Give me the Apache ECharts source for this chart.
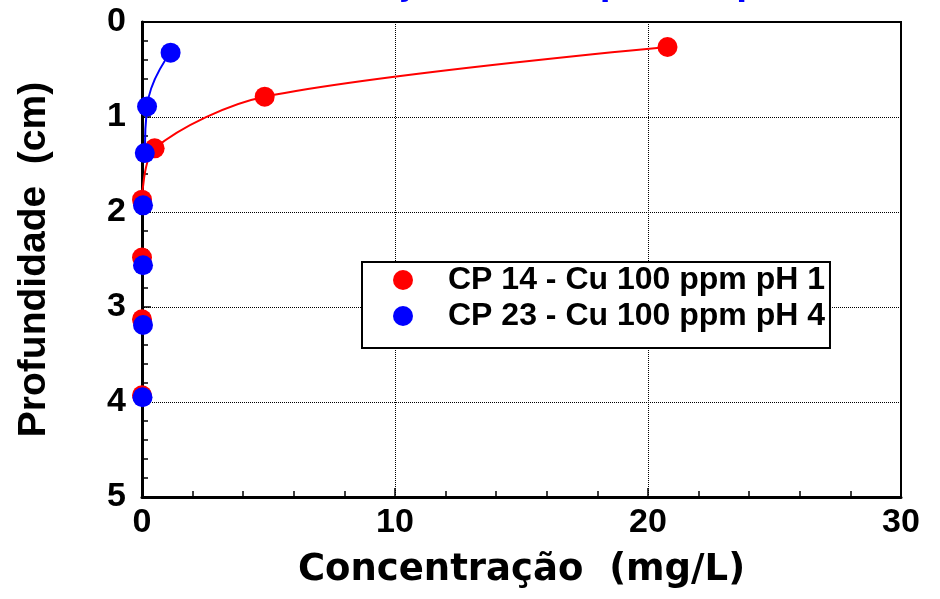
<!DOCTYPE html>
<html>
<head>
<meta charset="utf-8">
<script src="https://cdn.jsdelivr.net/npm/echarts@6/dist/echarts.min.js"></script>
<style>
  html, body { margin: 0; padding: 0; background: #fff; }
  #chart { width: 940px; height: 599px; }
</style>
</head>
<body>
<div id="chart"></div>
<script>
// ---- data ----
const titleText = 'Concentração em corpos de prova';
const xAxisName = 'Concentração  (mg/L)';
const yAxisName = 'Profundidade  (cm)';
const seriesNames = ['CP 14 - Cu 100 ppm pH 1', 'CP 23 - Cu 100 ppm pH 4'];

const redConc  = [20.77, 4.85, 0.50, 0.00, 0.00, 0.00, 0.00];
const redDepth = [0.263, 0.786, 1.33, 1.87, 2.48, 3.13, 3.93];
const blueConc  = [1.13, 0.20, 0.11, 0.04, 0.04, 0.04, 0.02];
const blueDepth = [0.323, 0.89, 1.38, 1.93, 2.56, 3.19, 3.95];
const redCurveCount = 4;   // points joined by the red trend curve
const blueCurveCount = 3;  // points joined by the blue trend curve

const xTicks = [0, 10, 20, 30];
const yTicks = [0, 1, 2, 3, 4, 5];

// ---- build ----
const pairs = (xs, ys) => xs.map((x, i) => [x, ys[i]]);
const redData = pairs(redConc, redDepth);
const blueData = pairs(blueConc, blueDepth);

const tickFont = { fontFamily: 'Liberation Sans', fontWeight: 'bold', fontSize: 34, color: '#000' };

const chart = echarts.init(document.getElementById('chart'), null, { renderer: 'canvas' });
chart.setOption({
  backgroundColor: '#fff',
  animation: false,
  title: {
    text: titleText,
    left: 201, top: -36, padding: 0,
    textStyle: { color: '#0000ff', fontFamily: 'Liberation Sans', fontWeight: 'bold', fontSize: 39 }
  },
  grid: { left: 142, right: 39, top: 22, bottom: 102, show: true, borderColor: '#000', borderWidth: 2, backgroundColor: 'transparent' },
  legend: {
    orient: 'vertical', left: 362, top: 262,
    padding: [2, 5, 16, 31],
    itemWidth: 20, itemHeight: 20, itemGap: 4,
    icon: 'circle',
    borderColor: '#000', borderWidth: 2, backgroundColor: '#fff',
    textStyle: { fontFamily: 'Liberation Sans', fontWeight: 'bold', fontSize: 32, color: '#000', padding: [0, 0, 0, 30] },
    data: seriesNames
  },
  xAxis: {
    type: 'value', min: xTicks[0], max: xTicks[xTicks.length - 1], interval: xTicks[1] - xTicks[0],
    name: xAxisName, nameLocation: 'middle', nameGap: 55,
    nameTextStyle: { fontFamily: 'DejaVu Sans', fontWeight: 'bold', fontSize: 37, color: '#000' },
    axisLine: { onZero: false, lineStyle: { color: '#000', width: 3 } },
    axisTick: { show: true, inside: true, length: 9, lineStyle: { color: '#000', width: 1.5 } },
    minorTick: { show: true, splitNumber: 5, length: 6, lineStyle: { color: '#000', width: 1.5 } },
    axisLabel: Object.assign({ margin: 9 }, tickFont),
    splitLine: { show: true, lineStyle: { type: 'dotted', color: '#000', width: 1 } }
  },
  yAxis: {
    type: 'value', inverse: true, min: yTicks[0], max: yTicks[yTicks.length - 1], interval: yTicks[1] - yTicks[0],
    name: yAxisName, nameLocation: 'middle', nameGap: 88, nameRotate: 90,
    nameTextStyle: { fontFamily: 'Liberation Sans', fontWeight: 'bold', fontSize: 39, color: '#000' },
    axisLine: { onZero: false, lineStyle: { color: '#000', width: 3 } },
    axisTick: { show: true, inside: true, length: 9, lineStyle: { color: '#000', width: 1.5 } },
    minorTick: { show: true, splitNumber: 5, length: 6, lineStyle: { color: '#000', width: 1.5 } },
    axisLabel: Object.assign({ margin: 16 }, tickFont),
    splitLine: { show: true, lineStyle: { type: 'dotted', color: '#000', width: 1 } }
  },
  series: [
    {
      type: 'line', name: seriesNames[0] + ' curve', data: redData.slice(0, redCurveCount),
      smooth: 0.3, showSymbol: false, symbol: 'none',
      lineStyle: { color: '#ff0000', width: 2 }, z: 2, silent: true
    },
    {
      type: 'line', name: seriesNames[1] + ' curve', data: blueData.slice(0, blueCurveCount),
      smooth: 0.5, showSymbol: false, symbol: 'none',
      lineStyle: { color: '#0000ff', width: 2 }, z: 2, silent: true
    },
    {
      type: 'scatter', name: seriesNames[0], data: redData,
      symbol: 'circle', symbolSize: 20, itemStyle: { color: '#ff0000', opacity: 1 }, z: 3
    },
    {
      type: 'scatter', name: seriesNames[1], data: blueData,
      symbol: 'circle', symbolSize: 20, itemStyle: { color: '#0000ff', opacity: 1 }, z: 4
    }
  ]
});
</script>
</body>
</html>
